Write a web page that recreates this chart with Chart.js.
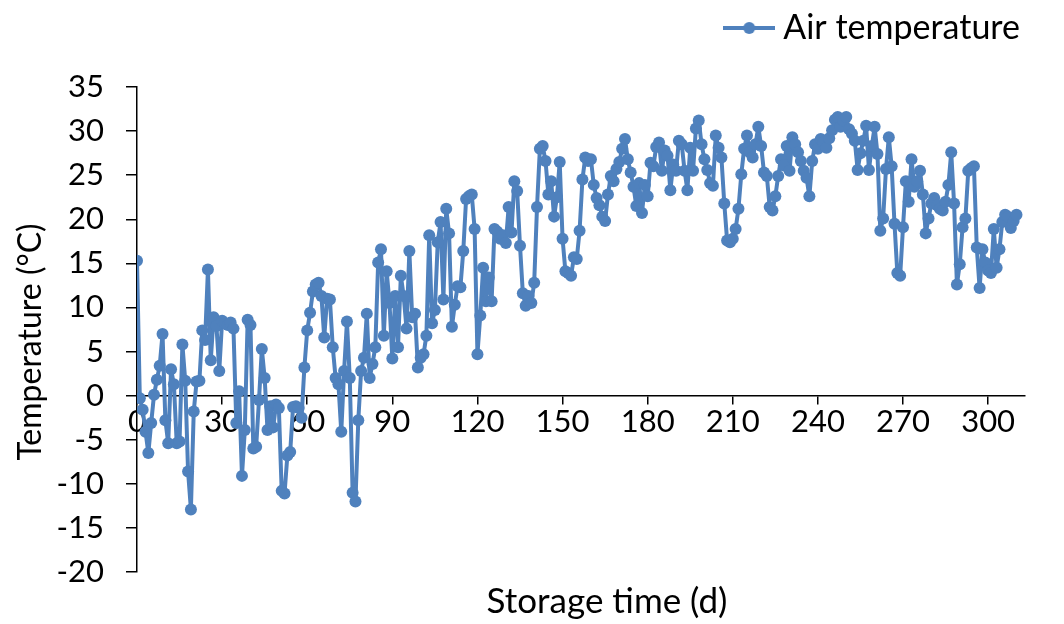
<!DOCTYPE html>
<html>
<head>
<meta charset="utf-8">
<title>Air temperature during storage</title>
<script src="https://cdn.jsdelivr.net/npm/chart.js@4.4.1/dist/chart.umd.min.js"></script>
<style>
  html, body { margin: 0; padding: 0; background: #fff; }
  #wrap { width: 1064px; height: 624px; }
</style>
</head>
<body>
<div id="wrap"><canvas id="tempChart"></canvas></div>
<script>
// daily air temperature, day 0 .. 310
const airTemp = [
  15.3, -0.3, -1.6, -4.1, -6.5, -3.1, 0.1, 1.8, 3.4, 7.0,
  -2.8, -5.4, 3.0, 1.3, -5.4, -5.2, 5.8, 1.7, -8.6, -12.9,
  -1.8, 1.6, 1.7, 7.4, 6.3, 14.3, 4.0, 8.9, 7.9, 2.8,
  8.5, 8.2, 8.0, 8.3, 7.6, -3.1, 0.5, -9.1, -3.9, 8.6,
  8.0, -6.0, -5.8, -0.5, 5.3, 2.0, -3.9, -1.2, -3.6, -1.0,
  -1.4, -10.8, -11.1, -6.8, -6.4, -1.3, -1.2, -1.4, -2.5, 3.2,
  7.4, 9.4, 11.8, 12.6, 12.8, 11.3, 6.6, 11.0, 10.9, 5.5,
  2.0, 1.3, -4.1, 2.8, 8.4, 2.0, -11.0, -12.0, -2.8, 2.8,
  4.3, 9.3, 2.0, 3.6, 5.5, 15.1, 16.6, 6.8, 14.1, 10.5,
  4.2, 11.3, 5.5, 13.6, 11.3, 7.6, 16.4, 8.9, 9.3, 3.2,
  4.3, 4.7, 6.8, 18.2, 8.2, 9.7, 17.4, 19.7, 10.9, 21.2,
  18.4, 7.8, 10.3, 12.4, 12.3, 16.4, 22.3, 22.6, 22.8, 18.9,
  4.7, 9.1, 14.5, 10.7, 13.4, 10.7, 18.9, 18.6, 17.8, 18.2,
  17.3, 21.4, 18.5, 24.3, 23.2, 17.0, 11.6, 10.2, 11.3, 10.5,
  12.8, 21.4, 28.0, 28.3, 26.6, 22.8, 24.3, 20.3, 22.5, 26.5,
  17.8, 14.1, 13.9, 13.6, 15.7, 15.5, 18.7, 24.5, 27.0, 26.6,
  26.8, 23.9, 22.4, 21.6, 20.3, 19.8, 22.8, 24.9, 24.3, 25.7,
  26.5, 28.0, 29.1, 26.8, 25.3, 23.7, 21.5, 24.1, 20.7, 23.9,
  22.6, 26.4, 26.0, 28.2, 28.7, 25.5, 27.8, 27.2, 23.3, 26.2,
  25.5, 28.9, 28.5, 25.5, 23.3, 28.1, 25.5, 30.3, 31.2, 28.5,
  26.8, 25.6, 24.1, 23.8, 29.5, 28.1, 27.0, 21.8, 17.6, 17.4,
  17.8, 18.9, 21.2, 25.1, 28.0, 29.5, 27.6, 27.0, 28.5, 30.5,
  28.3, 25.3, 24.9, 21.4, 21.0, 22.6, 24.9, 26.8, 26.1, 28.3,
  25.5, 29.3, 28.5, 27.6, 26.6, 25.5, 24.7, 22.6, 26.6, 28.5,
  28.0, 29.1, 28.7, 28.1, 29.2, 30.1, 31.3, 31.6, 30.5, 31.2,
  31.6, 30.2, 29.7, 28.9, 25.6, 27.5, 28.9, 30.6, 25.6, 28.3,
  30.5, 27.4, 18.7, 20.1, 25.7, 29.3, 26.0, 19.5, 13.9, 13.6,
  19.1, 24.3, 22.0, 26.8, 23.7, 24.3, 25.5, 22.8, 18.4, 20.1,
  21.8, 22.4, 21.6, 21.2, 21.0, 22.0, 23.9, 27.6, 21.8, 12.6,
  14.9, 19.1, 20.1, 25.5, 25.8, 26.0, 16.8, 12.2, 16.6, 15.1,
  14.2, 13.9, 18.9, 14.5, 16.6, 19.7, 20.5, 20.3, 19.0, 19.8, 20.5
];
const days = airTemp.map((_, i) => i);

const dayRange = [0, 313];
const dayStep = 30;
const tempRange = [-20, 35];
const tempStep = 5;

const seriesName = "Air temperature";
const xTitle = "Storage time (d)";
const yTitle = "Temperature (°C)";

const blue = "#4F81BD";
const family = "Lato, 'Open Sans', sans-serif";
const tickFont = { family, size: 31 };
const labelFont = { family, size: 34 };

// legend symbol: short line with a dot in the middle
const legendMark = document.createElement("canvas");
legendMark.width = 52;
legendMark.height = 14;
(() => {
  const c = legendMark.getContext("2d");
  c.strokeStyle = blue;
  c.fillStyle = blue;
  c.lineWidth = 4;
  c.beginPath();
  c.moveTo(0, 7);
  c.lineTo(52, 7);
  c.stroke();
  c.beginPath();
  c.arc(26, 7, 6, 0, Math.PI * 2);
  c.fill();
})();

// extra room between the legend and the plot
const legendGap = {
  id: "legendGap",
  beforeInit(chart) {
    const fit = chart.legend.fit;
    chart.legend.fit = function () {
      fit.call(this);
      this.height += 32;
    };
  }
};

// axis titles: the x axis crosses at 0 °C, so its title is placed by hand
const axisTitles = {
  id: "axisTitles",
  afterDraw(chart) {
    const ctx = chart.ctx;
    ctx.save();
    ctx.fillStyle = "#000";
    ctx.textAlign = "center";
    ctx.textBaseline = "middle";
    ctx.font = "35px " + family;
    ctx.fillText(xTitle, 607, 602);
    ctx.translate(31, 342);
    ctx.rotate(-Math.PI / 2);
    ctx.font = "32px " + family;
    ctx.fillText(yTitle, 0, 0);
    ctx.restore();
  }
};

Chart.defaults.font.family = family;
Chart.defaults.color = "#000";

new Chart(document.getElementById("tempChart"), {
  type: "line",
  data: {
    datasets: [{
      label: seriesName,
      data: days.map((d, i) => ({ x: d, y: airTemp[i] })),
      borderColor: blue,
      backgroundColor: blue,
      borderWidth: 4,
      borderJoinStyle: "round",
      pointRadius: 6,
      pointHoverRadius: 6,
      pointBorderWidth: 0,
      pointBackgroundColor: blue,
      tension: 0
    }]
  },
  options: {
    responsive: true,
    maintainAspectRatio: false,
    animation: false,
    layout: { padding: { top: 6, right: 39, bottom: 52, left: 0 } },
    plugins: {
      legend: {
        position: "top",
        align: "end",
        fullSize: false,
        labels: {
          usePointStyle: true,
          pointStyle: legendMark,
          pointStyleWidth: 34,
          padding: 5,
          color: "#000",
          font: labelFont
        }
      },
      tooltip: { enabled: false }
    },
    scales: {
      x: {
        type: "linear",
        position: { y: 0 },
        min: dayRange[0],
        max: dayRange[1],
        ticks: {
          stepSize: dayStep,
          includeBounds: false,
          padding: 0,
          maxRotation: 0,
          font: tickFont,
          color: "#000"
        },
        grid: {
          drawOnChartArea: false,
          drawTicks: true,
          tickLength: 8,
          color: "#000",
          lineWidth: 1.5
        },
        border: { color: "#000", width: 1.5 }
      },
      y: {
        min: tempRange[0],
        max: tempRange[1],
        ticks: {
          stepSize: tempStep,
          padding: 22,
          font: tickFont,
          color: "#000"
        },
        grid: {
          drawOnChartArea: false,
          drawTicks: true,
          tickLength: 11,
          color: "#000",
          lineWidth: 1.5
        },
        border: { color: "#000", width: 1.5 },
        afterFit(scale) {
          scale.width = 137;
        }
      }
    }
  },
  plugins: [legendGap, axisTitles]
});
</script>
</body>
</html>
